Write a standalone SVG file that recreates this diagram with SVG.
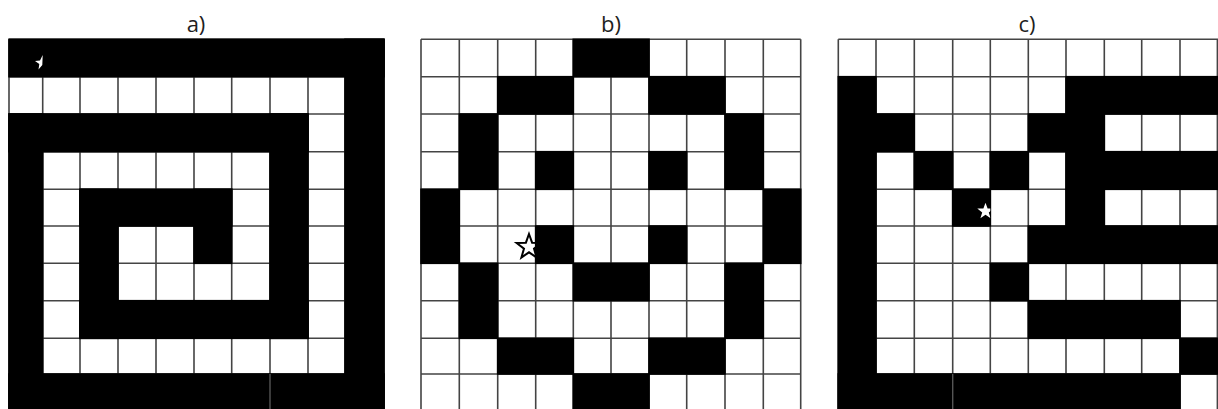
<svg xmlns="http://www.w3.org/2000/svg" width="1218" height="409" viewBox="0 0 1218 409">
<style>
.lbl{font-family:"Open Sans","Liberation Sans",sans-serif;font-size:22px;fill:#1e1e1e;text-anchor:middle}
.grid{fill:none;stroke:#444;stroke-width:1.6}
.blk{fill:#000}
.seam{stroke:#555;stroke-width:1.4}
</style>
<defs>
<clipPath id="clipC"><rect x="838" y="39" width="152.3" height="370"/></clipPath>
</defs>
<rect width="1218" height="409" fill="#fff"/>
<text class="lbl" x="196" y="32">a)</text>
<text class="lbl" x="611" y="32">b)</text>
<text class="lbl" x="1027" y="32">c)</text>

<g id="grid-a">
<path class="grid" d="M9 39.3V409M42.7 39.3V409M80 39.3V409M118 39.3V409M156 39.3V409M194 39.3V409M231.7 39.3V409M270 39.3V409M308 39.3V409M345 39.3V409M384 39.3V409M9 39.3H384M9 76.7H384M9 114H384M9 151.7H384M9 189.3H384M9 226H384M9 263.3H384M9 300.7H384M9 338.3H384M9 374H384"/>
<rect class="blk" x="8.2" y="38.5" width="376.6" height="39"/>
<rect class="blk" x="344.2" y="38.5" width="40.6" height="371"/>
<rect class="blk" x="8.2" y="113.2" width="35.3" height="296"/>
<rect class="blk" x="8.2" y="373.2" width="376.6" height="36"/>
<rect class="blk" x="8.2" y="113.2" width="300.6" height="39.3"/>
<rect class="blk" x="269.2" y="113.2" width="39.6" height="225.9"/>
<rect class="blk" x="79.2" y="299.9" width="229.6" height="39.2"/>
<rect class="blk" x="79.2" y="188.5" width="39.6" height="150.6"/>
<rect class="blk" x="79.2" y="188.5" width="153.3" height="38.3"/>
<rect class="blk" x="193.2" y="188.5" width="39.3" height="75.6"/>
<line class="seam" x1="270" y1="374" x2="270" y2="409"/>
<polygon fill="#fff" points="42.7,55 42.3,65 38.5,69.5 39.3,64 35,61 40,60.5"/>
</g>

<g id="grid-b">
<path class="grid" d="M421 39.3V409M459.3 39.3V409M497.7 39.3V409M535.7 39.3V409M573.3 39.3V409M611 39.3V409M649 39.3V409M686.7 39.3V409M725 39.3V409M763.3 39.3V409M800.7 39.3V409M421 39.3H800.7M421 76.7H800.7M421 114H800.7M421 151.7H800.7M421 189.3H800.7M421 226H800.7M421 263.3H800.7M421 300.7H800.7M421 338.3H800.7M421 374H800.7"/>
<polygon fill="#fff" stroke="#000" stroke-width="2" stroke-linejoin="miter" points="529,234 532.1,242.7 541.4,243 534,248.6 536.6,257.5 529,252.3 521.4,257.5 524,248.6 516.6,243 525.9,242.7"/>
<rect class="blk" x="572.5" y="38.5" width="77.3" height="39"/>
<rect class="blk" x="496.9" y="75.9" width="77.2" height="38.9"/>
<rect class="blk" x="648.2" y="75.9" width="77.6" height="38.9"/>
<rect class="blk" x="458.5" y="113.2" width="40" height="76.9"/>
<rect class="blk" x="724.2" y="113.2" width="39.9" height="76.9"/>
<rect class="blk" x="534.9" y="150.9" width="39.2" height="39.2"/>
<rect class="blk" x="648.2" y="150.9" width="39.3" height="39.2"/>
<rect class="blk" x="420.2" y="188.5" width="39.9" height="75.6"/>
<rect class="blk" x="762.5" y="188.5" width="39" height="75.6"/>
<rect class="blk" x="534.9" y="225.2" width="39.2" height="38.9"/>
<rect class="blk" x="648.2" y="225.2" width="39.3" height="38.9"/>
<rect class="blk" x="458.5" y="262.5" width="40" height="76.6"/>
<rect class="blk" x="724.2" y="262.5" width="39.9" height="76.6"/>
<rect class="blk" x="572.5" y="262.5" width="77.3" height="39"/>
<rect class="blk" x="496.9" y="337.5" width="77.2" height="37.3"/>
<rect class="blk" x="648.2" y="337.5" width="77.6" height="37.3"/>
<rect class="blk" x="572.5" y="373.2" width="77.3" height="36"/>
</g>

<g id="grid-c">
<path class="grid" d="M838.3 39.3V409M876 39.3V409M914.3 39.3V409M952.7 39.3V409M990.3 39.3V409M1028.3 39.3V409M1066 39.3V409M1104.3 39.3V409M1141.7 39.3V409M1180 39.3V409M1217.4 39.3V409M838.3 39.3H1218M838.3 76.7H1218M838.3 114H1218M838.3 151.7H1218M838.3 189.3H1218M838.3 226H1218M838.3 263.3H1218M838.3 300.7H1218M838.3 338.3H1218M838.3 374H1218"/>
<rect class="blk" x="837.5" y="75.9" width="39.3" height="333.1"/>
<rect class="blk" x="1065.2" y="75.9" width="152.8" height="38.9"/>
<rect class="blk" x="875.2" y="113.2" width="39.9" height="39.3"/>
<rect class="blk" x="1027.5" y="113.2" width="77.6" height="39.3"/>
<rect class="blk" x="913.5" y="150.9" width="40" height="39.2"/>
<rect class="blk" x="989.5" y="150.9" width="39.6" height="39.2"/>
<rect class="blk" x="1065.2" y="150.9" width="152.8" height="39.2"/>
<rect class="blk" x="951.9" y="188.5" width="39.2" height="38.3"/>
<rect class="blk" x="1065.2" y="188.5" width="39.9" height="38.3"/>
<rect class="blk" x="1027.5" y="225.2" width="190.5" height="38.9"/>
<rect class="blk" x="989.5" y="262.5" width="39.6" height="39"/>
<rect class="blk" x="1027.5" y="299.9" width="153.3" height="39.2"/>
<rect class="blk" x="1179.2" y="337.5" width="38.8" height="37.3"/>
<rect class="blk" x="837.5" y="373.2" width="343.3" height="36"/>
<line class="seam" x1="952.7" y1="374" x2="952.7" y2="409"/>
<polygon clip-path="url(#clipC)" fill="#fff" points="985.5,202.7 987.6,208.5 993.7,208.6 988.8,212.4 990.6,218.3 985.5,214.8 980.4,218.3 982.2,212.4 977.3,208.6 983.4,208.5"/>
</g>
</svg>
